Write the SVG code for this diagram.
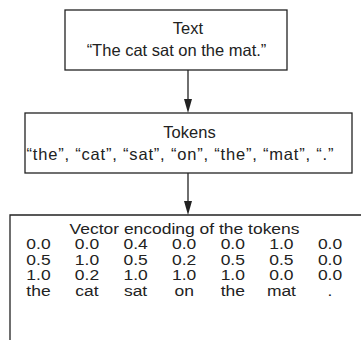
<svg xmlns="http://www.w3.org/2000/svg" width="361" height="340" viewBox="0 0 361 340">
<style>
.box{fill:#fff;stroke:#222;stroke-width:1.3}
.t{font-family:"Liberation Sans",Arial,sans-serif;font-size:16.5px;fill:#222}
.v{font-size:14.8px}
.c{text-anchor:middle}
.edge{stroke:#222;stroke-width:1.3;fill:none}
.head{fill:#222}
</style>
<rect width="361" height="340" fill="#fff"/>
<g id="connectors">
<line class="edge" x1="188" y1="70" x2="188" y2="100"/>
<polygon class="head" points="184,99 192,99 188,113"/>
<line class="edge" x1="188" y1="173" x2="188" y2="202"/>
<polygon class="head" points="184,201 192,201 188,215"/>
</g>
<g id="text-node">
<rect class="box" x="65" y="10" width="222" height="60"/>
<text class="t c" x="188" y="33.5">Text</text>
<text class="t c" x="176.5" y="56">“The cat sat on the mat.”</text>
</g>
<g id="tokens-node">
<rect class="box" x="25" y="113" width="327" height="60"/>
<text class="t c" x="189.5" y="137.5">Tokens</text>
<text class="t c" x="180" y="160" textLength="307" lengthAdjust="spacing">“the”, “cat”, “sat”, “on”, “the”, “mat”, “.”</text>
</g>
<g id="vector-node">
<path class="edge" d="M10,340 V215 H362"/>
<g class="t v c" transform="scale(1.18 1)">
<text x="156.4" y="234">Vector encoding of the tokens</text>
<text y="249.5"><tspan x="32.6">0.0</tspan><tspan x="73.7">0.0</tspan><tspan x="114.9">0.4</tspan><tspan x="156.1">0.0</tspan><tspan x="197.3">0.0</tspan><tspan x="238.5">1.0</tspan><tspan x="279.7">0.0</tspan></text>
<text y="265"><tspan x="32.6">0.5</tspan><tspan x="73.7">1.0</tspan><tspan x="114.9">0.5</tspan><tspan x="156.1">0.2</tspan><tspan x="197.3">0.5</tspan><tspan x="238.5">0.5</tspan><tspan x="279.7">0.0</tspan></text>
<text y="280.5"><tspan x="32.6">1.0</tspan><tspan x="73.7">0.2</tspan><tspan x="114.9">1.0</tspan><tspan x="156.1">1.0</tspan><tspan x="197.3">1.0</tspan><tspan x="238.5">0.0</tspan><tspan x="279.7">0.0</tspan></text>
<text y="296"><tspan x="32.6">the</tspan><tspan x="73.7">cat</tspan><tspan x="114.9">sat</tspan><tspan x="156.1">on</tspan><tspan x="197.3">the</tspan><tspan x="238.5">mat</tspan><tspan x="279.7">.</tspan></text>
</g>
</g>
</svg>
